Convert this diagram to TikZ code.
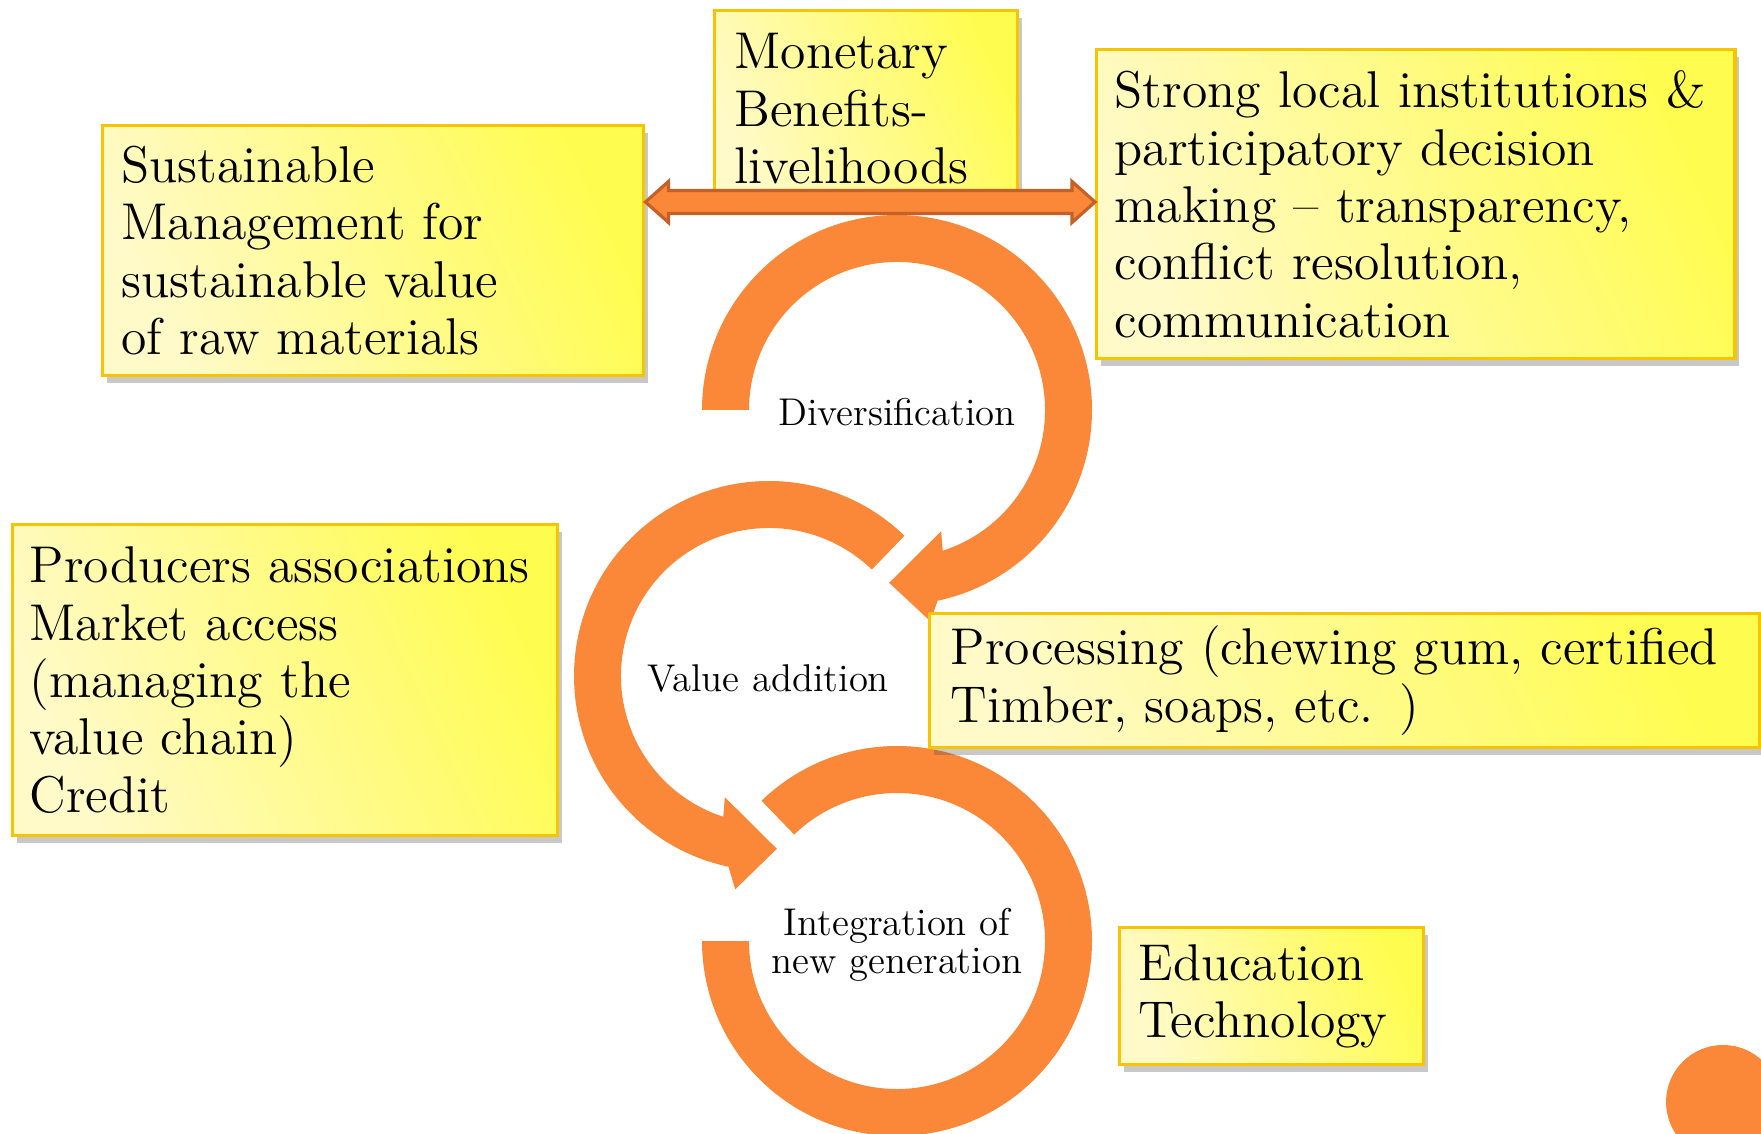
\documentclass[tikz,border=0pt]{standalone}
\usetikzlibrary{calc,shadows}
\definecolor{ringorange}{RGB}{250,136,56}
\definecolor{arrowedge}{RGB}{196,96,40}
\definecolor{boxline}{RGB}{246,196,0}
\definecolor{boxbright}{RGB}{255,252,80}
\definecolor{boxpale}{RGB}{255,250,200}
\tikzset{
  infobox/.style={draw=boxline, line width=0.9pt, left color=boxpale, right color=boxbright, shading angle=115,
    drop shadow={shadow xshift=0.4mm, shadow yshift=-0.7mm, opacity=0.3, fill=black!70},
    anchor=north west, align=left, inner ysep=0pt, font=\fontsize{14.7}{16.3}\selectfont},
  ringpart/.style={fill=ringorange},
  ringlabel/.style={align=center, inner sep=0pt, font=\fontsize{11}{10.8}\selectfont},
  linkarrow/.style={fill=ringorange, draw=arrowedge, line width=0.9pt, line join=miter}
}
\begin{document}
\begin{tikzpicture}[x=0.01cm, y=0.01cm]
        \useasboundingbox (0,0) rectangle (1761,-1134);
        \fill[white] (0,0) rectangle (1761,-1134);

        \coordinate (c1) at (897,-410);
        \coordinate (c2) at (769,-676);
        \coordinate (c3) at (897,-941);

        \fill[ringpart] ($(c1)+(180:148)$) -- ($(c1)+(180:195)$) arc[start angle=180, end angle=-78, radius=195]
            -- ($(c1)+(-81:214)$) -- ($(c1)+(-92.6:173)$) -- ($(c1)+(-70:129)$) -- ($(c1)+(-72:148)$)
            arc[start angle=-72, end angle=180, radius=148] -- cycle;
        \fill[ringpart] ($(c2)+(46:148)$) -- ($(c2)+(46:195)$) arc[start angle=46, end angle=258, radius=195]
            -- ($(c2)+(261:216)$) -- ($(c2)+(272.6:173)$) -- ($(c2)+(250:129)$) -- ($(c2)+(252:148)$)
            arc[start angle=252, end angle=46, radius=148] -- cycle;
        \fill[ringpart] ($(c3)+(134:148)$) -- ($(c3)+(134:195)$) arc[start angle=134, end angle=-180, radius=195]
            -- ($(c3)+(180:148)$) arc[start angle=-180, end angle=134, radius=148] -- cycle;
        \fill[ringpart] (1723,-1102) circle[radius=57];

        \node[infobox, minimum width=54.1mm, minimum height=25mm, text width=50.3mm, inner xsep=1.9mm] (sust) at (101,-124) {Sustainable\\Management for\\sustainable value\\of raw materials};
        \node[infobox, minimum width=30.3mm, minimum height=19.6mm, text width=26.3mm, inner xsep=2mm] (money) at (713,-9) {Monetary\\Benefits-\\livelihoods};
        \node[infobox, minimum width=63.8mm, minimum height=30.9mm, text width=60.2mm, inner xsep=1.8mm] (inst) at (1095,-48) {Strong local institutions~\&\\participatory decision\\making -- transparency,\\conflict resolution,\\communication};
        \node[infobox, minimum width=54.5mm, minimum height=31.1mm, text width=51.1mm, inner xsep=1.7mm] (prod) at (11,-523) {Producers~associations\\Market access\\(managing the\\value chain)\\Credit};
        \node[infobox, minimum width=82.9mm, minimum height=13.4mm, text width=78.7mm, inner xsep=2.1mm] (proc) at (928,-612) {Processing (chewing gum, certified\\Timber, soaps, etc. )};
        \node[infobox, minimum width=30.4mm, minimum height=13.7mm, text width=26.6mm, inner xsep=1.9mm] (edu) at (1118,-926) {Education\\Technology};

        \coordinate (lt) at (sust.east |- 0,-202);
        \coordinate (rt) at (inst.west |- 0,-202);
        \draw[linkarrow] (lt) -- ++(23,20.5) -- ++(0,-9) -- ($(rt)+(-23,11.5)$) -- ++(0,9) -- (rt)
            -- ++(-23,-20.5) -- ++(0,9) -- ($(lt)+(23,-11.5)$) -- ++(0,-9) -- cycle;

        \node[ringlabel] (div) at (897,-412) {Diversification};
        \node[ringlabel] (val) at (768,-678) {Value addition};
        \node[ringlabel] (integ) at (897,-945) {Integration of\\new generation};
\end{tikzpicture}
\end{document}
